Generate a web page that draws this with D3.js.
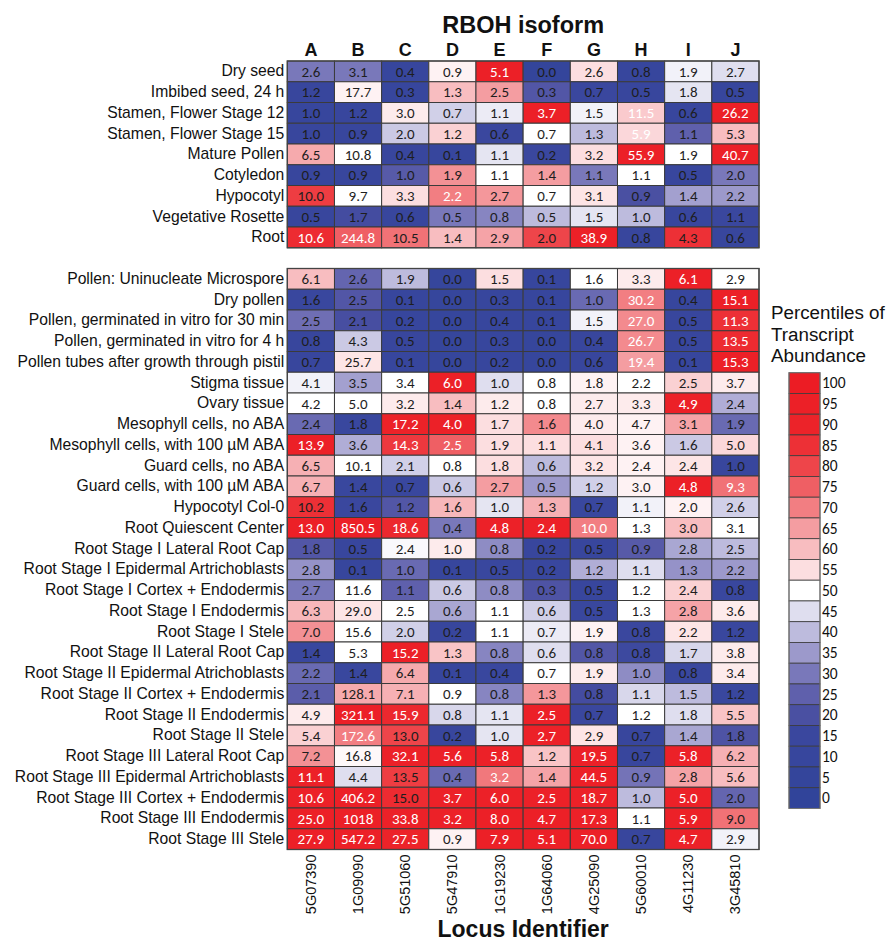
<!DOCTYPE html>
<html>
<head>
<meta charset="utf-8">
<script src="https://cdn.jsdelivr.net/npm/d3@7"></script>
<style>
  body { margin: 0; background: #fff; }
  svg text { font-family: "Liberation Sans", Arial, sans-serif; fill: #111; }
  .cell-label { font-family: Carlito, "Open Sans", sans-serif; font-size: 15px; }
  .legend-tick { font-family: Carlito, "Open Sans", sans-serif; font-size: 15.5px; }
</style>
</head>
<body>
<svg id="chart"></svg>
<script>
// ---- data ----
const isoforms = ["A", "B", "C", "D", "E", "F", "G", "H", "I", "J"];
const loci = ["5G07390", "1G09090", "5G51060", "5G47910", "1G19230",
              "1G64060", "4G25090", "5G60010", "4G11230", "3G45810"];

const tissuesTop = ["Dry seed", "Imbibed seed, 24 h", "Stamen, Flower Stage 12",
  "Stamen, Flower Stage 15", "Mature Pollen", "Cotyledon", "Hypocotyl",
  "Vegetative Rosette", "Root"];

const tissuesBottom = ["Pollen: Uninucleate Microspore", "Dry pollen",
  "Pollen, germinated in vitro for 30 min", "Pollen, germinated in vitro for 4 h",
  "Pollen tubes after growth through pistil", "Stigma tissue", "Ovary tissue",
  "Mesophyll cells, no ABA", "Mesophyll cells, with 100 \u00b5M ABA",
  "Guard cells, no ABA", "Guard cells, with 100 \u00b5M ABA", "Hypocotyl Col-0",
  "Root Quiescent Center", "Root Stage I Lateral Root Cap",
  "Root Stage I Epidermal Artrichoblasts", "Root Stage I Cortex + Endodermis",
  "Root Stage I Endodermis", "Root Stage I Stele", "Root Stage II Lateral Root Cap",
  "Root Stage II Epidermal Atrichoblasts", "Root Stage II Cortex + Endodermis",
  "Root Stage II Endodermis", "Root Stage II Stele", "Root Stage III Lateral Root Cap",
  "Root Stage III Epidermal Artrichoblasts", "Root Stage III Cortex + Endodermis",
  "Root Stage III Endodermis", "Root Stage III Stele"];

// transcript abundance shown in each cell
const valuesTop = [
  [2.6, 3.1, 0.4, 0.9, 5.1, 0.0, 2.6, 0.8, 1.9, 2.7],
  [1.2, 17.7, 0.3, 1.3, 2.5, 0.3, 0.7, 0.5, 1.8, 0.5],
  [1.0, 1.2, 3.0, 0.7, 1.1, 3.7, 1.5, 11.5, 0.6, 26.2],
  [1.0, 0.9, 2.0, 1.2, 0.6, 0.7, 1.3, 5.9, 1.1, 5.3],
  [6.5, 10.8, 0.4, 0.1, 1.1, 0.2, 3.2, 55.9, 1.9, 40.7],
  [0.9, 0.9, 1.0, 1.9, 1.1, 1.4, 1.1, 1.1, 0.5, 2.0],
  [10.0, 9.7, 3.3, 2.2, 2.7, 0.7, 3.1, 0.9, 1.4, 2.2],
  [0.5, 1.7, 0.6, 0.5, 0.8, 0.5, 1.5, 1.0, 0.6, 1.1],
  [10.6, 244.8, 10.5, 1.4, 2.9, 2.0, 38.9, 0.8, 4.3, 0.6]
];

const valuesBottom = [
  [6.1, 2.6, 1.9, 0.0, 1.5, 0.1, 1.6, 3.3, 6.1, 2.9],
  [1.6, 2.5, 0.1, 0.0, 0.3, 0.1, 1.0, 30.2, 0.4, 15.1],
  [2.5, 2.1, 0.2, 0.0, 0.4, 0.1, 1.5, 27.0, 0.5, 11.3],
  [0.8, 4.3, 0.5, 0.0, 0.3, 0.0, 0.4, 26.7, 0.5, 13.5],
  [0.7, 25.7, 0.1, 0.0, 0.2, 0.0, 0.6, 19.4, 0.1, 15.3],
  [4.1, 3.5, 3.4, 6.0, 1.0, 0.8, 1.8, 2.2, 2.5, 3.7],
  [4.2, 5.0, 3.2, 1.4, 1.2, 0.8, 2.7, 3.3, 4.9, 2.4],
  [2.4, 1.8, 17.2, 4.0, 1.7, 1.6, 4.0, 4.7, 3.1, 1.9],
  [13.9, 3.6, 14.3, 2.5, 1.9, 1.1, 4.1, 3.6, 1.6, 5.0],
  [6.5, 10.1, 2.1, 0.8, 1.8, 0.6, 3.2, 2.4, 2.4, 1.0],
  [6.7, 1.4, 0.7, 0.6, 2.7, 0.5, 1.2, 3.0, 4.8, 9.3],
  [10.2, 1.6, 1.2, 1.6, 1.0, 1.3, 0.7, 1.1, 2.0, 2.6],
  [13.0, 850.5, 18.6, 0.4, 4.8, 2.4, 10.0, 1.3, 3.0, 3.1],
  [1.8, 0.5, 2.4, 1.0, 0.8, 0.2, 0.5, 0.9, 2.8, 2.5],
  [2.8, 0.1, 1.0, 0.1, 0.5, 0.2, 1.2, 1.1, 1.3, 2.2],
  [2.7, 11.6, 1.1, 0.6, 0.8, 0.3, 0.5, 1.2, 2.4, 0.8],
  [6.3, 29.0, 2.5, 0.6, 1.1, 0.6, 0.5, 1.3, 2.8, 3.6],
  [7.0, 15.6, 2.0, 0.2, 1.1, 0.7, 1.9, 0.8, 2.2, 1.2],
  [1.4, 5.3, 15.2, 1.3, 0.8, 0.6, 0.8, 0.8, 1.7, 3.8],
  [2.2, 1.4, 6.4, 0.1, 0.4, 0.7, 1.9, 1.0, 0.8, 3.4],
  [2.1, 128.1, 7.1, 0.9, 0.8, 1.3, 0.8, 1.1, 1.5, 1.2],
  [4.9, 321.1, 15.9, 0.8, 1.1, 2.5, 0.7, 1.2, 1.8, 5.5],
  [5.4, 172.6, 13.0, 0.2, 1.0, 2.7, 2.9, 0.7, 1.4, 1.8],
  [7.2, 16.8, 32.1, 5.6, 5.8, 1.2, 19.5, 0.7, 5.8, 6.2],
  [11.1, 4.4, 13.5, 0.4, 3.2, 1.4, 44.5, 0.9, 2.8, 5.6],
  [10.6, 406.2, 15.0, 3.7, 6.0, 2.5, 18.7, 1.0, 5.0, 2.0],
  [25.0, 1018, 33.8, 3.2, 8.0, 4.7, 17.3, 1.1, 5.9, 9.0],
  [27.9, 547.2, 27.5, 0.9, 7.9, 5.1, 70.0, 0.7, 4.7, 2.9]
];

// percentile of transcript abundance (cell colour), estimated from the shading
const pctTop = [
  [30, 30, 10, 52, 95, 5, 55, 10, 48, 45],
  [12, 52, 10, 60, 65, 22, 15, 12, 46, 10],
  [10, 12, 53, 43, 47, 95, 48, 58, 12, 95],
  [12, 12, 42, 57, 15, 50, 40, 56, 25, 60],
  [63, 50, 12, 10, 46, 15, 55, 95, 50, 95],
  [12, 12, 23, 67, 50, 65, 30, 50, 12, 30],
  [82, 50, 55, 70, 66, 50, 54, 20, 36, 35],
  [12, 18, 12, 30, 32, 40, 46, 40, 12, 15],
  [87, 75, 72, 60, 64, 80, 95, 12, 85, 12]
];

const pctBottom = [
  [60, 26, 40, 8, 55, 10, 50, 53, 95, 50],
  [14, 22, 10, 8, 10, 10, 27, 70, 10, 95],
  [28, 19, 10, 8, 10, 10, 48, 68, 12, 85],
  [12, 42, 12, 8, 10, 8, 12, 68, 12, 87],
  [12, 54, 10, 8, 10, 8, 12, 65, 10, 95],
  [48, 36, 50, 95, 45, 50, 52, 50, 57, 53],
  [50, 50, 53, 60, 53, 50, 53, 53, 95, 38],
  [27, 14, 92, 93, 55, 68, 53, 52, 64, 27],
  [95, 38, 83, 75, 55, 55, 55, 52, 42, 56],
  [62, 50, 43, 50, 55, 40, 54, 52, 54, 12],
  [62, 14, 14, 42, 65, 35, 43, 52, 95, 72],
  [85, 15, 22, 61, 46, 62, 14, 48, 52, 43],
  [95, 95, 88, 30, 93, 93, 70, 50, 60, 50],
  [22, 12, 49, 53, 33, 12, 12, 23, 37, 40],
  [34, 10, 27, 10, 14, 14, 38, 45, 34, 35],
  [30, 50, 25, 42, 33, 21, 12, 50, 57, 14],
  [61, 54, 50, 37, 50, 43, 14, 50, 64, 53],
  [67, 50, 43, 12, 50, 47, 52, 15, 54, 14],
  [14, 50, 95, 59, 32, 45, 22, 16, 44, 53],
  [27, 14, 63, 10, 14, 50, 53, 33, 14, 53],
  [24, 63, 62, 50, 32, 66, 18, 44, 40, 14],
  [53, 95, 88, 44, 46, 95, 15, 50, 45, 59],
  [57, 70, 80, 12, 46, 93, 54, 12, 37, 21],
  [67, 51, 93, 93, 93, 59, 93, 12, 93, 62],
  [93, 45, 82, 27, 71, 64, 95, 29, 64, 60],
  [93, 95, 87, 93, 93, 93, 93, 40, 93, 26],
  [95, 95, 93, 93, 95, 95, 93, 50, 93, 72],
  [95, 95, 90, 52, 95, 95, 95, 12, 93, 48]
];

// cells whose number is printed in white (1) rather than black (0)
const whiteTop = [
  "0000100000", "0000000000", "0000010101", "0000000100", "0000000101",
  "0000000000", "0001000000", "0000000000", "1100001000"
];
const whiteBottom = [
  "0000000010", "0000000101", "0000000101", "0000000101", "0000000101",
  "0001000000", "0000000010", "0011000000", "1011000000", "0000000000",
  "0000000011", "0000000000", "1110111000", "0000000000", "0000000000",
  "0000000000", "0000000000", "0000000000", "0010000000", "0000000000",
  "0000000000", "0110010000", "0100010000", "0011101010", "1000101000",
  "1101111010", "1111111010", "1110111010"
];

const legendTicks = [100, 95, 90, 85, 80, 75, 70, 65, 60, 55, 50,
                     45, 40, 35, 30, 25, 20, 15, 10, 5, 0];

// ---- drawing ----
const W = 886, H = 941;
const margin = {left: 287.3, top: 61};
const gridWidth = 471.7;
const rowH = 20.75;

const svg = d3.select("#chart").attr("width", W).attr("height", H);

// one gap row between the two blocks
const rowKeys = [...tissuesTop, "__gap__", ...tissuesBottom];

const xScale = d3.scaleBand()
    .domain(loci)
    .range([margin.left, margin.left + gridWidth]);

const yScale = d3.scaleBand()
    .domain(rowKeys)
    .range([margin.top, margin.top + rowKeys.length * rowH]);

const color = d3.scaleLinear()
    .domain([0, 15, 20, 25, 30, 35, 40, 45, 50, 55, 60, 65, 70, 75, 80, 85, 90, 100])
    .range(["#31449a", "#3a479e", "#4a50a2", "#5f60ac", "#7978ba", "#9c99cb",
            "#bdbbdd", "#dfdeef", "#ffffff", "#fcdee0", "#f8bdc0", "#f49da1",
            "#f27e82", "#ef5f64", "#ee454a", "#ed3036", "#ec2329", "#ec1c24"])
    .clamp(true);

const fmt = v => v >= 1000 ? d3.format("d")(v) : d3.format(".1f")(v);

function buildCells(tissues, values, pct, white) {
  const out = [];
  tissues.forEach((t, r) => {
    loci.forEach((l, c) => {
      out.push({tissue: t, locus: l, value: values[r][c], pct: pct[r][c],
                white: white[r][c] === "1"});
    });
  });
  return out;
}

const cells = buildCells(tissuesTop, valuesTop, pctTop, whiteTop)
  .concat(buildCells(tissuesBottom, valuesBottom, pctBottom, whiteBottom));

const grid = svg.append("g").attr("class", "grid");

grid.selectAll("rect")
  .data(cells)
  .join("rect")
    .attr("x", d => xScale(d.locus))
    .attr("y", d => yScale(d.tissue))
    .attr("width", xScale.bandwidth())
    .attr("height", yScale.bandwidth())
    .attr("fill", d => color(d.pct))
    .attr("stroke", "#3b3b3b")
    .attr("stroke-width", 1);

grid.selectAll("text")
  .data(cells)
  .join("text")
    .attr("class", "cell-label")
    .attr("x", d => xScale(d.locus) + xScale.bandwidth() / 2)
    .attr("y", d => yScale(d.tissue) + yScale.bandwidth() / 2 + 5.3)
    .attr("text-anchor", "middle")
    .style("fill", d => d.white ? "#ffffff" : "#1e1e1e")
    .text(d => fmt(d.value));

// outer frames of the two blocks
[tissuesTop, tissuesBottom].forEach(block => {
  svg.append("rect")
    .attr("x", margin.left)
    .attr("y", yScale(block[0]))
    .attr("width", gridWidth)
    .attr("height", yScale.bandwidth() * block.length)
    .attr("fill", "none")
    .attr("stroke", "#444")
    .attr("stroke-width", 1.3);
});

// row labels (left axis)
const yAxis = d3.axisLeft(yScale).tickSize(0).tickPadding(3);
svg.append("g")
    .attr("transform", `translate(${margin.left},0)`)
    .call(yAxis)
    .call(g => g.select(".domain").remove())
    .call(g => g.selectAll(".tick").filter(d => d === "__gap__").remove())
    .call(g => g.selectAll("text")
        .attr("font-family", "Liberation Sans, Arial, sans-serif")
        .attr("font-size", 15.7)
        .attr("fill", "#111"));

// isoform letters on top
const isoScale = d3.scaleBand().domain(isoforms).range(xScale.range());
const topAxis = d3.axisTop(isoScale).tickSize(0).tickPadding(5);
svg.append("g")
    .attr("transform", `translate(0,${margin.top})`)
    .call(topAxis)
    .call(g => g.select(".domain").remove())
    .call(g => g.selectAll("text")
        .attr("font-family", "Liberation Sans, Arial, sans-serif")
        .attr("font-size", 18)
        .attr("font-weight", "bold")
        .attr("fill", "#111"));

// locus identifiers at the bottom, rotated
const gridBottom = yScale.range()[1];
const bottomAxis = d3.axisBottom(xScale).tickSize(0).tickPadding(0);
svg.append("g")
    .attr("transform", `translate(0,${gridBottom})`)
    .call(bottomAxis)
    .call(g => g.select(".domain").remove())
    .call(g => g.selectAll("text")
        .attr("font-family", "Liberation Sans, Arial, sans-serif")
        .attr("font-size", 14.5)
        .attr("fill", "#111")
        .attr("text-anchor", "end")
        .attr("transform", "rotate(-90)")
        .attr("x", -5)
        .attr("y", 0)
        .attr("dy", "0.35em"));

// titles
const centerX = margin.left + gridWidth / 2;
svg.append("text")
    .attr("x", centerX).attr("y", 33)
    .attr("text-anchor", "middle")
    .attr("font-size", 23.5).attr("font-weight", "bold")
    .text("RBOH isoform");

svg.append("text")
    .attr("x", centerX).attr("y", 937)
    .attr("text-anchor", "middle")
    .attr("font-size", 23).attr("font-weight", "bold")
    .text("Locus Identifier");

// legend
const legendX = 789, legendTop = 372.7, legendW = 31;
const legendScale = d3.scaleBand()
    .domain(legendTicks)
    .range([legendTop, legendTop + legendTicks.length * rowH]);

const legend = svg.append("g").attr("class", "legend");

legend.selectAll("text.title")
  .data(["Percentiles of", "Transcript", "Abundance"])
  .join("text")
    .attr("class", "title")
    .attr("x", 771)
    .attr("y", (d, i) => 319 + i * 21.5)
    .attr("font-size", 18.8)
    .text(d => d);

legend.selectAll("rect")
  .data(legendTicks)
  .join("rect")
    .attr("x", legendX)
    .attr("y", d => legendScale(d))
    .attr("width", legendW)
    .attr("height", legendScale.bandwidth())
    .attr("fill", d => color(d))
    .attr("stroke", "#3b3b3b")
    .attr("stroke-width", 0.8);

legend.append("rect")
    .attr("x", legendX).attr("y", legendTop)
    .attr("width", legendW).attr("height", legendTicks.length * rowH)
    .attr("fill", "none").attr("stroke", "#777").attr("stroke-width", 1);

legend.selectAll("text.tick")
  .data(legendTicks)
  .join("text")
    .attr("class", "legend-tick")
    .attr("x", legendX + legendW + 2)
    .attr("y", d => legendScale(d) + legendScale.bandwidth() / 2 + 5.3)
    .text(d => d);
</script>
</body>
</html>
